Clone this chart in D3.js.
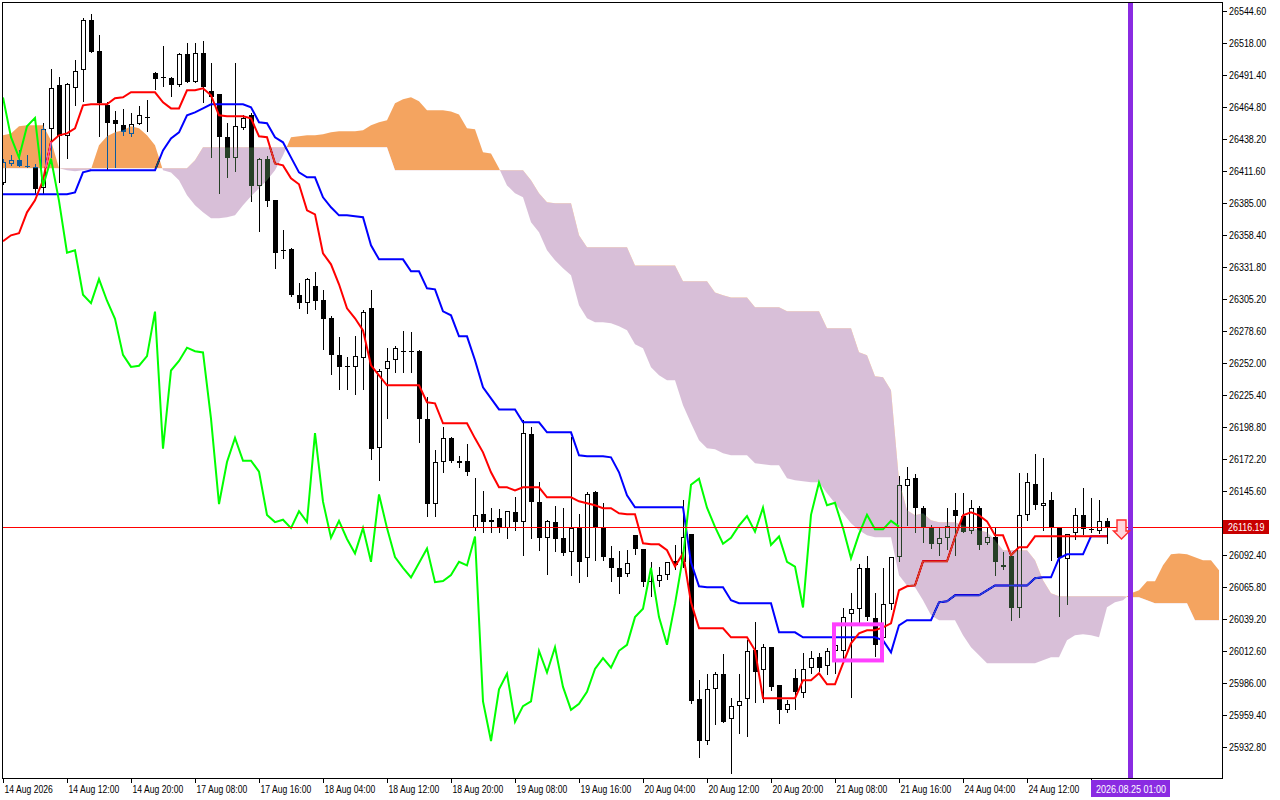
<!DOCTYPE html>
<html>
<head>
<meta charset="utf-8">
<script src="https://cdn.jsdelivr.net/npm/d3@7"></script>
<style>
html, body { margin: 0; padding: 0; background: #fff; }
svg { display: block; }
text { font-family: "Liberation Sans", Arial, sans-serif; }
</style>
</head>
<body>
<div id="chart"></div>
<script>
// H1 candles, 14 Aug 04:00 .. 24 Aug 22:00
const opens = [
  26402, 26418, 26421, 26416, 26415, 26398, 26447, 26483, 26441, 26481,
  26496, 26537, 26512, 26467, 26454, 26450, 26443, 26451, 26456, 26493,
  26490, 26489, 26483, 26509, 26486, 26510, 26478, 26476, 26440, 26423,
  26448, 26458, 26399, 26422, 26388, 26345, 26347, 26309, 26302, 26316,
  26305, 26290, 26259, 26249, 26249, 26256, 26298, 26182, 26247, 26255,
  26262, 26262, 26262, 26206, 26135, 26170, 26190, 26169, 26171, 26115,
  26127, 26120, 26123, 26115, 26128, 26120, 26193, 26137, 26107, 26120,
  26107, 26095, 26116, 26090, 26145, 26115, 26090, 26082, 26077, 26109,
  26098, 26070, 26071, 26076, 26088, 26087, 26110, 25973, 25938, 25981,
  25994, 25956, 25967, 25973, 26014, 25997, 26016, 25985, 25964, 25990,
  25978, 25999, 26008, 26000, 26013, 26013, 26044, 26048, 26082, 26040,
  26024, 26052, 26091, 26150, 26157, 26132, 26116, 26102, 26107, 26130,
  26125, 26113, 26132, 26103, 26108, 26084, 26092, 26049, 26126, 26152,
  26133, 26138, 26115, 26089, 26111, 26126, 26114, 26113, 26121
];
const highs = [
  26422, 26425, 26429, 26425, 26418, 26452, 26497, 26490, 26485, 26504,
  26539, 26542, 26525, 26469, 26462, 26463, 26460, 26466, 26471, 26494,
  26516, 26490, 26510, 26518, 26518, 26520, 26502, 26476, 26452, 26502,
  26458, 26460, 26423, 26424, 26388, 26363, 26348, 26319, 26323, 26328,
  26313, 26291, 26274, 26257, 26275, 26296, 26313, 26247, 26265, 26266,
  26279, 26278, 26263, 26224, 26180, 26199, 26191, 26175, 26185, 26157,
  26146, 26132, 26131, 26129, 26141, 26205, 26199, 26153, 26122, 26133,
  26132, 26191, 26127, 26145, 26146, 26136, 26100, 26096, 26097, 26109,
  26098, 26087, 26083, 26087, 26101, 26138, 26110, 25989, 25994, 25995,
  26010, 25974, 25994, 26022, 26037, 26019, 26016, 25985, 25972, 25998,
  26011, 26013, 26011, 26015, 26033, 26049, 26061, 26085, 26092, 26061,
  26082, 26091, 26158, 26166, 26160, 26133, 26118, 26116, 26132, 26144,
  26144, 26138, 26133, 26116, 26116, 26095, 26092, 26161, 26161, 26177,
  26173, 26145, 26115, 26110, 26132, 26148, 26140, 26138, 26123
];
const lows = [
  26400, 26416, 26415, 26414, 26393, 26393, 26423, 26402, 26422, 26466,
  26469, 26510, 26440, 26412, 26414, 26441, 26440, 26450, 26444, 26479,
  26482, 26473, 26482, 26485, 26485, 26468, 26423, 26393, 26406, 26411,
  26446, 26386, 26361, 26382, 26330, 26339, 26307, 26297, 26293, 26296,
  26263, 26242, 26230, 26230, 26226, 26230, 26172, 26154, 26206, 26244,
  26244, 26244, 26186, 26124, 26124, 26161, 26169, 26165, 26158, 26113,
  26111, 26111, 26111, 26106, 26113, 26092, 26106, 26096, 26076, 26095,
  26092, 26075, 26069, 26074, 26088, 26088, 26070, 26060, 26074, 26093,
  26066, 26058, 26066, 26072, 26080, 26082, 25969, 25924, 25935, 25951,
  25953, 25911, 25944, 25941, 25970, 25970, 25980, 25952, 25961, 25964,
  25974, 25994, 25995, 25993, 25994, 26005, 25974, 26034, 26038, 26008,
  26022, 26047, 26087, 26117, 26111, 26103, 26098, 26092, 26097, 26092,
  26111, 26110, 26097, 26101, 26075, 26080, 26038, 26040, 26121, 26130,
  26113, 26088, 26041, 26051, 26105, 26109, 26111, 26110, 26102
];
const closes = [
  26419, 26421, 26416, 26415, 26397, 26447, 26481, 26441, 26484, 26495,
  26537, 26511, 26468, 26452, 26451, 26444, 26451, 26458, 26457, 26488,
  26489, 26483, 26509, 26486, 26510, 26482, 26473, 26440, 26423, 26449,
  26456, 26399, 26422, 26387, 26344, 26346, 26309, 26302, 26322, 26304,
  26289, 26259, 26249, 26250, 26258, 26295, 26181, 26246, 26254, 26265,
  26262, 26261, 26206, 26135, 26170, 26190, 26171, 26171, 26162, 26126,
  26120, 26122, 26115, 26129, 26120, 26194, 26137, 26107, 26121, 26106,
  26094, 26115, 26087, 26143, 26115, 26091, 26082, 26074, 26086, 26098,
  26070, 26071, 26076, 26087, 26084, 26108, 25971, 25938, 25981, 25994,
  25954, 25967, 25971, 26013, 25995, 26016, 25983, 25964, 25969, 25979,
  25998, 26007, 25999, 26013, 26018, 26041, 26048, 26082, 26041, 26018,
  26052, 26091, 26151, 26156, 26132, 26116, 26102, 26107, 26117, 26125,
  26112, 26132, 26101, 26108, 26087, 26083, 26049, 26126, 26153, 26134,
  26136, 26115, 26090, 26110, 26126, 26114, 26114, 26121, 26116.19
];

// Ichimoku lines
const tenkan = [
  26353.4, 26358.4, 26360.1, 26377.5, 26387.5, 26404.1, 26435.7, 26441.5, 26443.1, 26447.3,
  26466.4, 26467.3, 26467.3, 26467.3, 26472.3, 26473.1, 26477.3, 26477.3, 26477.3, 26477.3,
  26468.9, 26463.9, 26463.9, 26478.9, 26478.9, 26480.6, 26474.8, 26458.1, 26457.3, 26457.3,
  26457.3, 26455.6, 26440.7, 26439.9, 26418.2, 26416.5, 26405.8, 26400.8, 26379.2, 26375.8,
  26343.4, 26334.3, 26317.7, 26297.7, 26289.4, 26279.4, 26250.3, 26242.0, 26233.7, 26233.7,
  26233.7, 26233.7, 26233.7, 26219.6, 26218.7, 26202.1, 26202.1, 26202.1, 26202.1, 26189.6,
  26178.0, 26161.4, 26148.9, 26148.9, 26146.4, 26148.9, 26148.9, 26148.9, 26140.6, 26140.6,
  26140.6, 26140.6, 26137.3, 26135.6, 26134.0, 26131.5, 26131.5, 26127.3, 26126.5, 26126.5,
  26102.4, 26101.5, 26101.5, 26096.6, 26083.2, 26094.0, 26053.3, 26031.7, 26031.7, 26031.7,
  26031.7, 26024.2, 26024.2, 26024.2, 26013.4, 25973.5, 25973.5, 25973.5, 25973.5, 25973.5,
  25988.5, 25988.5, 25994.3, 25985.2, 25985.2, 26002.6, 26019.2, 26027.6, 26030.1, 26030.1,
  26032.5, 26035.9, 26063.3, 26066.6, 26067.4, 26087.4, 26087.4, 26087.4, 26087.4, 26107.4,
  26125.6, 26128.2, 26125.6, 26120.6, 26109.0, 26109.0, 26092.4, 26099.1, 26099.1, 26108.2,
  26108.2, 26108.2, 26108.2, 26108.2, 26108.2, 26108.2, 26108.2, 26108.2, 26108.2
];
const kijun = [
  26392.5, 26392.5, 26392.5, 26392.5, 26392.5, 26392.5, 26392.5, 26392.5, 26392.5, 26394.1,
  26410.7, 26412.4, 26412.4, 26412.4, 26412.4, 26412.4, 26412.4, 26412.4, 26412.4, 26412.4,
  26429.0, 26439.0, 26444.0, 26458.1, 26460.6, 26463.9, 26467.3, 26467.3, 26467.3, 26467.3,
  26467.3, 26464.8, 26452.3, 26451.5, 26439.9, 26435.7, 26423.2, 26410.7, 26406.6, 26406.6,
  26390.0, 26381.7, 26375.0, 26375.0, 26374.2, 26373.4, 26350.1, 26338.4, 26338.4, 26338.4,
  26338.4, 26328.5, 26328.5, 26314.3, 26313.5, 26295.2, 26291.9, 26274.4, 26274.4, 26254.5,
  26232.0, 26222.9, 26213.7, 26213.7, 26213.7, 26202.9, 26202.9, 26202.9, 26194.6, 26194.6,
  26194.6, 26194.6, 26175.5, 26174.7, 26174.7, 26174.7, 26173.8, 26161.4, 26142.3, 26132.3,
  26132.3, 26132.3, 26132.3, 26132.3, 26132.3, 26132.3, 26086.6, 26066.6, 26065.8, 26065.8,
  26065.8, 26055.0, 26052.5, 26052.5, 26052.5, 26052.5, 26052.5, 26028.4, 26028.4, 26028.4,
  26024.2, 26024.2, 26024.2, 26024.2, 26024.2, 26024.2, 26024.2, 26024.2, 26024.2, 26024.2,
  26021.7, 26011.7, 26034.2, 26038.4, 26038.4, 26038.4, 26038.4, 26053.3, 26054.2, 26059.1,
  26059.1, 26059.1, 26059.1, 26063.3, 26067.4, 26067.4, 26067.4, 26067.4, 26067.4, 26073.3,
  26074.1, 26074.1, 26089.9, 26093.2, 26093.2, 26093.2, 26108.2, 26108.2, 26108.2
];
// Senkou spans, already shifted 26 bars ahead (index = bar on chart)
const spanA = [
  26441.5, 26443.1, 26449.0, 26449.8, 26449.8, 26449.8, 26437.3, 26414.1, 26412.4, 26411.6,
  26412.4, 26413.2, 26433.2, 26440.7, 26444.0, 26445.7, 26449.0, 26447.3, 26441.5, 26433.2,
  26412.4, 26410.7, 26404.1, 26391.6, 26383.3, 26377.5, 26372.5, 26372.5, 26373.4, 26375.0,
  26383.3, 26390.8, 26397.5, 26404.1, 26412.4, 26424.8, 26439.9, 26440.7, 26441.5, 26441.5,
  26442.4, 26444.0, 26444.8, 26444.8, 26444.8, 26445.7, 26449.8, 26452.3, 26454.0, 26468.1,
  26471.4, 26473.1, 26469.8, 26462.3, 26462.3, 26462.3, 26461.4, 26458.9, 26447.3, 26446.5,
  26427.4, 26426.5, 26414.1, 26399.9, 26393.3, 26390.0, 26369.2, 26360.9, 26345.9, 26337.6,
  26331.0, 26325.1, 26300.2, 26289.4, 26286.1, 26286.1, 26285.2, 26282.7, 26279.4, 26267.8,
  26264.5, 26248.7, 26242.0, 26237.9, 26237.9, 26217.1, 26202.1, 26188.0, 26181.3, 26180.5,
  26177.2, 26175.5, 26175.5, 26175.5, 26168.9, 26168.0, 26167.2, 26167.2, 26156.4, 26154.7,
  26153.9, 26153.1, 26153.1, 26143.9, 26135.6, 26127.3, 26119.0, 26113.2, 26109.0, 26107.4,
  26107.4, 26107.4, 26075.8, 26067.4, 26065.8, 26055.0, 26042.5, 26038.4, 26038.4, 26038.4,
  26025.9, 26015.9, 26009.3, 26002.6, 26002.6, 26002.6, 26002.6, 26002.6, 26002.6, 26002.6,
  26005.1, 26007.6, 26007.6, 26021.7, 26025.9, 26026.7, 26025.9, 26024.2, 26049.2, 26053.3,
  26055.0, 26060.8, 26063.3, 26070.8, 26070.8, 26084.1, 26093.2, 26094.0, 26093.2, 26090.7,
  26088.2, 26088.2, 26079.9
];
const spanB = [
  26414.1, 26414.1, 26414.1, 26414.1, 26414.1, 26414.1, 26414.1, 26414.1, 26414.1, 26414.1,
  26414.1, 26414.1, 26414.1, 26414.1, 26414.1, 26414.1, 26414.1, 26414.1, 26414.1, 26414.1,
  26414.1, 26414.1, 26414.1, 26414.1, 26420.7, 26431.5, 26431.5, 26431.5, 26431.5, 26431.5,
  26431.5, 26431.5, 26431.5, 26431.5, 26431.5, 26431.5, 26431.5, 26431.5, 26431.5, 26431.5,
  26431.5, 26431.5, 26431.5, 26431.5, 26431.5, 26431.5, 26431.5, 26431.5, 26431.5, 26412.4,
  26412.4, 26412.4, 26412.4, 26412.4, 26412.4, 26412.4, 26412.4, 26412.4, 26412.4, 26412.4,
  26412.4, 26412.4, 26412.4, 26412.4, 26412.4, 26412.4, 26404.1, 26393.3, 26385.8, 26385.0,
  26385.0, 26385.0, 26358.4, 26348.4, 26348.4, 26348.4, 26348.4, 26348.4, 26348.4, 26333.4,
  26333.4, 26333.4, 26333.4, 26333.4, 26333.4, 26320.2, 26320.2, 26320.2, 26320.2, 26310.9,
  26308.5, 26306.8, 26306.8, 26306.8, 26298.5, 26298.5, 26298.5, 26298.5, 26295.2, 26295.2,
  26295.2, 26295.2, 26295.2, 26281.1, 26281.1, 26281.1, 26281.1, 26261.1, 26258.6, 26241.2,
  26240.4, 26229.5, 26154.7, 26129.8, 26125.6, 26127.3, 26121.5, 26119.8, 26119.8, 26119.8,
  26117.3, 26115.6, 26113.2, 26111.5, 26104.9, 26096.6, 26096.6, 26096.6, 26096.6, 26088.2,
  26071.6, 26060.8, 26058.3, 26058.3, 26058.3, 26058.3, 26058.3, 26058.3, 26058.3, 26058.3,
  26058.3, 26057.5, 26057.5, 26055.0, 26052.5, 26052.5, 26052.5, 26052.5, 26052.5, 26038.4,
  26038.4, 26038.4, 26038.4
];
const chikouShift = 26;

const priceTicks = [
  26544.60, 26518.00, 26491.40, 26464.80, 26438.20, 26411.60, 26385.00, 26358.40,
  26331.80, 26305.20, 26278.60, 26252.00, 26225.40, 26198.80, 26172.20, 26145.60,
  26119.00, 26092.40, 26065.80, 26039.20, 26012.60, 25986.00, 25959.40, 25932.80
];
const timeLabelBars = [0, 8, 16, 24, 32, 40, 48, 56, 64, 72, 80, 88, 96, 104, 112, 120, 128, 136];
const timeLabels = [
  "14 Aug 2026", "14 Aug 12:00", "14 Aug 20:00", "17 Aug 08:00", "17 Aug 16:00",
  "18 Aug 04:00", "18 Aug 12:00", "18 Aug 20:00", "19 Aug 08:00", "19 Aug 16:00",
  "20 Aug 04:00", "20 Aug 12:00", "20 Aug 20:00", "21 Aug 08:00", "21 Aug 16:00",
  "24 Aug 04:00", "24 Aug 12:00", ""
];

const lastPrice = 26116.19;
const eventBar = 141;
const eventLabel = "2026.08.25 01:00";
const signalBar = 140;
const signalPrice = 26106;
const boxBars = [103.875, 109.875];
const boxPrices = [26035, 26005];

const width = 1280;
const height = 800;
const plotLeft = 2, plotTop = 2, plotRight = 1222, plotBottom = 778;

const x = d3.scaleLinear().domain([0, 152]).range([3, 1219]);
const y = d3.scaleLinear().domain([25932.8, 26544.6]).range([747.3, 11.3]);

const svg = d3.select("#chart")
    .append("svg")
    .attr("width", width)
    .attr("height", height);

svg.append("rect").attr("width", width).attr("height", height).attr("fill", "#fff");

const defs = svg.append("defs");
defs.append("clipPath").attr("id", "plot-clip")
    .append("rect")
    .attr("x", plotLeft + 1).attr("y", plotTop + 1)
    .attr("width", plotRight - plotLeft - 1).attr("height", plotBottom - plotTop - 1);

const cloudBars = d3.range(spanA.length);
defs.append("clipPath").attr("id", "above-b")
    .append("path")
    .attr("d", d3.area().x(i => x(i)).y0(0).y1(i => y(spanB[i]))(cloudBars));
defs.append("clipPath").attr("id", "below-b")
    .append("path")
    .attr("d", d3.area().x(i => x(i)).y0(height).y1(i => y(spanB[i]))(cloudBars));

const plot = svg.append("g").attr("clip-path", "url(#plot-clip)");
plot.append("rect").attr("width", width).attr("height", height).attr("fill", "#fff");

// candles
const bars = d3.range(closes.length);
const candle = plot.append("g").selectAll("g").data(bars).join("g");

candle.append("rect")
    .attr("x", i => Math.round(x(i)))
    .attr("y", i => Math.round(y(highs[i])))
    .attr("width", 1)
    .attr("height", i => Math.max(1, Math.round(y(lows[i])) - Math.round(y(highs[i]))))
    .attr("fill", "#000");

candle.each(function(i) {
    const g = d3.select(this);
    const cx = Math.round(x(i));
    const top = Math.round(y(Math.max(opens[i], closes[i])));
    const bot = Math.round(y(Math.min(opens[i], closes[i])));
    const h = bot - top;
    if (closes[i] > opens[i] && h >= 2) {
        g.append("rect")
            .attr("x", cx - 1.5).attr("y", top + 0.5)
            .attr("width", 4).attr("height", h - 1)
            .attr("fill", "#fff").attr("stroke", "#000").attr("stroke-width", 1);
    } else {
        g.append("rect")
            .attr("x", cx - 2).attr("y", top)
            .attr("width", 5).attr("height", Math.max(1, h))
            .attr("fill", "#000");
    }
});

// tenkan / kijun (under the cloud)
const lineOf = arr => d3.line().x(i => x(i)).y(i => y(arr[i]));

plot.append("path")
    .attr("d", lineOf(kijun)(d3.range(kijun.length)))
    .attr("fill", "none").attr("stroke", "#0000ff").attr("stroke-width", 2);

plot.append("path")
    .attr("d", lineOf(tenkan)(d3.range(tenkan.length)))
    .attr("fill", "none").attr("stroke", "#ff0000").attr("stroke-width", 2);

// cloud, drawn MT-style so it inverts what is under it
const between = d3.area().x(i => x(i)).y0(i => y(spanA[i])).y1(i => y(spanB[i]));
plot.append("path")
    .attr("d", between(cloudBars))
    .attr("fill", "#0b5b9f")
    .attr("clip-path", "url(#above-b)")
    .style("mix-blend-mode", "difference");
plot.append("path")
    .attr("d", between(cloudBars))
    .attr("fill", "#274027")
    .attr("clip-path", "url(#below-b)")
    .style("mix-blend-mode", "difference");

// chikou = close shifted back
const chikouBars = d3.range(closes.length - chikouShift);
plot.append("path")
    .attr("d", d3.line().x(i => x(i)).y(i => y(closes[i + chikouShift]))(chikouBars))
    .attr("fill", "none").attr("stroke", "#00ff00").attr("stroke-width", 2);

// last price line
const yLast = Math.round(y(lastPrice)) + 0.5;
plot.append("line")
    .attr("x1", plotLeft).attr("x2", plotRight)
    .attr("y1", yLast).attr("y2", yLast)
    .attr("stroke", "#ff0000").attr("stroke-width", 1.2);

// event line
const xEvent = Math.round(x(eventBar));
plot.append("rect")
    .attr("x", xEvent - 3).attr("y", 0)
    .attr("width", 5).attr("height", height)
    .attr("fill", "#8a2be2");

// highlight box
plot.append("rect")
    .attr("x", x(boxBars[0])).attr("y", y(boxPrices[0]))
    .attr("width", x(boxBars[1]) - x(boxBars[0]))
    .attr("height", y(boxPrices[1]) - y(boxPrices[0]))
    .attr("fill", "none").attr("stroke", "#ff40ff").attr("stroke-width", 4);

// sell arrow
const tx = Math.round(x(signalBar)) - 1.5, ty = Math.round(y(signalPrice));
plot.append("path")
    .attr("d", `M${tx},${ty} L${tx - 8},${ty - 8} L${tx - 4.5},${ty - 8} L${tx - 4.5},${ty - 19} L${tx + 4.5},${ty - 19} L${tx + 4.5},${ty - 8} L${tx + 8},${ty - 8} Z`)
    .attr("fill", "#ffd6dc").attr("stroke", "#ff2a2a").attr("stroke-width", 1.4)
    .attr("stroke-linejoin", "miter");

// frame
svg.append("rect")
    .attr("x", plotLeft + 0.5).attr("y", plotTop + 0.5)
    .attr("width", plotRight - plotLeft).attr("height", plotBottom - plotTop)
    .attr("fill", "none").attr("stroke", "#000").attr("stroke-width", 1);

// price axis (labels under the last-price tag are hidden, as in the terminal)
const fmt = d3.format(".2f");
const yAxis = svg.append("g");
priceTicks.forEach(p => {
    const yy = Math.round(y(p)) + 0.5;
    yAxis.append("line")
        .attr("x1", plotRight + 1).attr("x2", plotRight + 5)
        .attr("y1", yy).attr("y2", yy)
        .attr("stroke", "#000");
    if (Math.abs(yy - yLast) < 12) return;
    yAxis.append("text")
        .attr("transform", `translate(${plotRight + 7},${yy + 3.8}) scale(0.85,1)`)
        .style("font-size", "10.5px")
        .attr("fill", "#000")
        .text(fmt(p));
});

// time axis
const xAxis = svg.append("g");
timeLabelBars.forEach((b, k) => {
    const xx = Math.round(x(b)) + 0.5;
    xAxis.append("line")
        .attr("x1", xx).attr("x2", xx)
        .attr("y1", plotBottom + 1).attr("y2", plotBottom + 5)
        .attr("stroke", "#000");
    if (!timeLabels[k]) return;
    xAxis.append("text")
        .attr("transform", `translate(${xx + 1},${plotBottom + 15}) scale(0.82,1)`)
        .style("font-size", "10.5px")
        .attr("fill", "#000")
        .text(timeLabels[k]);
});

// last price tag
svg.append("rect")
    .attr("x", plotRight + 1).attr("y", yLast - 7.5)
    .attr("width", 46).attr("height", 14)
    .attr("fill", "#c80000");
svg.append("text")
    .attr("transform", `translate(${plotRight + 6},${yLast + 3.8}) scale(0.85,1)`)
    .style("font-size", "10.5px")
    .attr("fill", "#fff")
    .text(fmt(lastPrice));

// event time tag
svg.append("rect")
    .attr("x", xEvent - 40).attr("y", plotBottom + 2)
    .attr("width", 79).attr("height", 17)
    .attr("fill", "#8a2be2");
svg.append("text")
    .attr("transform", `translate(${xEvent},${plotBottom + 15}) scale(0.86,1)`)
    .attr("text-anchor", "middle")
    .style("font-size", "10.5px")
    .attr("fill", "#fff")
    .text(eventLabel);
</script>
</body>
</html>
